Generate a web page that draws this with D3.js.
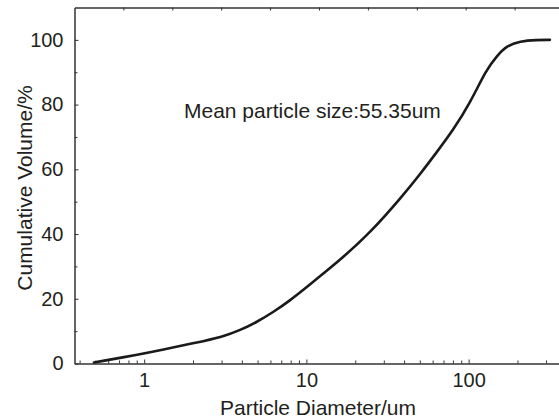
<!DOCTYPE html>
<html>
<head>
<meta charset="utf-8">
<script src="https://cdn.jsdelivr.net/npm/d3@7"></script>
<style>
    body { margin: 0; background: #fff; }
    text { font-family: "Liberation Sans", Arial, sans-serif; fill: #231f20; }
    .axis path, .axis line { stroke: #333; }
</style>
</head>
<body>
<script>
// Particle size distribution
var diameters = [0.49, 0.945, 1.255, 2.01, 3.08, 3.9, 4.95, 6.26, 7.94, 10.06,
                 12.7, 16.1, 24.7, 39.6, 50.2, 63.6, 80.5, 102, 129, 149,
                 172, 207, 263, 317];
var cumulative = [0.3, 2.85, 4.1, 6.25, 8.3, 10.3, 12.8, 15.9, 19.5, 23.6,
                  27.8, 32.0, 40.3, 52.1, 58.5, 65.3, 72.2, 80.5, 90.9, 95.0,
                  98.2, 99.6, 100, 100];

var xMajor = [1, 10, 100];
var xMinor = [0.4, 0.5, 0.6, 0.7, 0.8, 0.9, 2, 3, 4, 5, 6, 7, 8, 9,
              20, 30, 40, 50, 60, 70, 80, 90, 200, 300];
var yMajor = [0, 20, 40, 60, 80, 100];
var yMinor = [10, 30, 50, 70, 90];
var topTicks = [1, 2, 3, 4, 5, 6, 7, 8, 9];

var meanLabel = "Mean particle size:55.35um";
var xLabel = "Particle Diameter/um";
var yLabel = "Cumulative Volume/%";

var W = 559, H = 420;
var margin = {top: 7.5, right: 0, bottom: 56.5, left: 74.5};

var svg = d3.select("body").append("svg")
    .attr("width", W)
    .attr("height", H);

var xScale = d3.scaleLog()
    .domain([0.372, 360.6])
    .range([margin.left, W - margin.right]);

var yScale = d3.scaleLinear()
    .domain([0, 110])
    .range([H - margin.bottom, margin.top]);

// top axis has plain evenly spaced ticks, no labels
var topScale = d3.scaleLinear()
    .domain([0, 10])
    .range([margin.left, margin.left + 489]);

// minor ticks first, then the labelled ones on top
svg.append("g")
    .attr("class", "axis")
    .attr("transform", "translate(0," + yScale(0) + ")")
    .call(d3.axisBottom(xScale).tickValues(xMinor).tickSize(-3)
        .tickFormat(""))
    .call(function(g) { g.select(".domain").remove(); });

svg.append("g")
    .attr("class", "axis")
    .attr("transform", "translate(0," + yScale(0) + ")")
    .call(d3.axisBottom(xScale).tickValues(xMajor).tickSizeInner(-4)
        .tickSizeOuter(0).tickPadding(9).tickFormat(d3.format("d")))
    .call(function(g) {
        g.select(".domain").attr("stroke-width", 1.5);
        g.selectAll("text").attr("font-size", 20);
    });

svg.append("g")
    .attr("class", "axis")
    .attr("transform", "translate(" + margin.left + ",0)")
    .call(d3.axisLeft(yScale).tickValues(yMinor).tickSize(-3)
        .tickFormat(""))
    .call(function(g) { g.select(".domain").remove(); });

svg.append("g")
    .attr("class", "axis")
    .attr("transform", "translate(" + margin.left + ",0)")
    .call(d3.axisLeft(yScale).tickValues(yMajor).tickSizeInner(-4)
        .tickSizeOuter(0).tickPadding(11))
    .call(function(g) {
        g.select(".domain").attr("stroke-width", 1.5);
        g.selectAll("text").attr("font-size", 20);
    });

svg.append("g")
    .attr("class", "axis")
    .attr("transform", "translate(0," + margin.top + ")")
    .call(d3.axisTop(topScale).tickValues(topTicks).tickSizeInner(-3)
        .tickSizeOuter(0).tickFormat(""))
    .call(function(g) { g.select(".domain").attr("stroke-width", 1.5); });

// the curve, smoothed like the original
var line = d3.line()
    .x(function(d, i) { return xScale(diameters[i]); })
    .y(function(d) { return yScale(d); })
    .curve(d3.curveBasis);

svg.append("path")
    .datum(cumulative)
    .attr("fill", "none")
    .attr("stroke", "#1a1a1a")
    .attr("stroke-width", 2.6)
    .attr("stroke-linejoin", "round")
    .attr("stroke-linecap", "round")
    .attr("d", line);

// annotation and axis titles
svg.append("text")
    .attr("x", 184)
    .attr("y", 118)
    .attr("font-size", 21)
    .text(meanLabel);

svg.append("text")
    .attr("x", 318)
    .attr("y", 415)
    .attr("text-anchor", "middle")
    .attr("font-size", 21)
    .text(xLabel);

svg.append("text")
    .attr("transform", "rotate(-90)")
    .attr("x", -188)
    .attr("y", 32)
    .attr("text-anchor", "middle")
    .attr("font-size", 21)
    .text(yLabel);
</script>
</body>
</html>
